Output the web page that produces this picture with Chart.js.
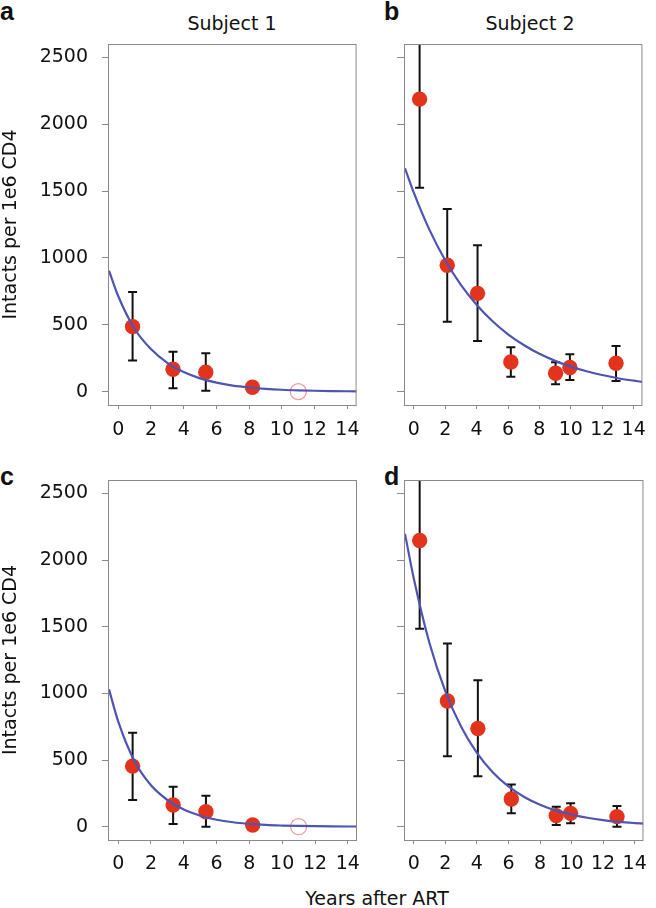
<!DOCTYPE html>
<html>
<head>
<meta charset="utf-8">
<script src="https://cdn.jsdelivr.net/npm/chart.js@4.4.1/dist/chart.umd.min.js"></script>
<style>
  body { margin: 0; background: #fff; width: 656px; height: 908px; position: relative; overflow: hidden; font-family: "DejaVu Sans", sans-serif; }
  canvas { position: absolute; }
  .lbl { position: absolute; white-space: nowrap; color: #111; line-height: 1; }
  .letter { font-family: "Liberation Sans", Arial, sans-serif; font-weight: bold; font-size: 25px; }
  .ttl { font-size: 19px; transform: translateX(-50%); }
</style>
</head>
<body>
<div class="lbl letter" style="left:0px;top:-1px">a</div>
<div class="lbl letter" style="left:384px;top:-1px">b</div>
<div class="lbl letter" style="left:0px;top:464px">c</div>
<div class="lbl letter" style="left:384px;top:464px">d</div>
<div class="lbl ttl" style="left:232px;top:14px">Subject 1</div>
<div class="lbl ttl" style="left:530px;top:14px">Subject 2</div>
<div class="lbl ttl" style="left:377px;top:889px">Years after ART</div>

<canvas id="chartA" width="370" height="450" style="left:0;top:0"></canvas>
<canvas id="chartB" width="286" height="450" style="left:370px;top:0"></canvas>
<canvas id="chartC" width="370" height="435" style="left:0;top:450px"></canvas>
<canvas id="chartD" width="286" height="435" style="left:370px;top:450px"></canvas>

<script>
// tick labels
const xTicks = [0, 2, 4, 6, 8, 10, 12, 14];
const yTicks = [0, 500, 1000, 1500, 2000, 2500];

// subject 1 (panels a, c)
const s1Years = [0.88, 3.35, 5.35, 8.2];
const aMean = [486, 167, 145, 33];
const aLow = [232, 25, 7, 18];
const aHigh = [745, 299, 287, 48];
const cMean = [454, 162, 112, 13];
const cLow = [200, 20, 0, 3];
const cHigh = [704, 300, 232, 25];
const s1OpenYears = [11.0];
const s1OpenVals = [0];

// subject 2 (panels b, d)
const s2Years = [0.37, 2.13, 4.06, 6.18, 9.03, 9.94, 12.88];
const bMean = [2188, 945, 735, 222, 137, 180, 212];
const bLow = [1525, 523, 379, 112, 55, 87, 80];
const bHigh = [2900, 1365, 1094, 332, 220, 279, 341];
const dMean = [2146, 943, 736, 207, 83, 100, 75];
const dLow = [1485, 529, 379, 100, 13, 25, 0];
const dHigh = [2850, 1373, 1098, 317, 150, 175, 155];

// fitted decay curves
const fitYears = [-0.56, 0, 1, 2, 3, 4, 5, 6, 7, 8, 9, 10, 11, 12, 13, 14, 14.56];
const aFit = [905, 715, 470, 318, 215, 146, 99, 67, 45, 31, 21, 14, 9.5, 6.4, 4.3, 2.9, 2.3];
const bFit = [1670, 1489, 1210, 983, 799, 650, 528, 429, 349, 283, 230, 187, 152, 124, 100, 82, 73];
const cFit = [1030, 790, 490, 310, 200, 128, 82, 52, 33, 21, 13, 8.5, 5.4, 3.5, 2.2, 1.4, 1.1];
const dFit = [2196, 1860, 1374, 1015, 750, 554, 409, 302, 223, 165, 122, 90, 67, 49, 36, 27, 23];

const DOT = '#e2341d';
const CURVE = '#4f54b3';
const OPEN = '#f29a9a';
const AXIS = '#8a8a8a';
const FONT = { family: '"DejaVu Sans", sans-serif', size: 19 };

function pts(xs, ys) {
  return xs.map((x, i) => ({ x: x, y: ys[i] }));
}

function makePanel(id, fit, years, mean, low, high, openYears, openVals, o) {
  const errPlugin = {
    id: 'errBars',
    beforeDatasetsDraw(chart) {
      const ctx = chart.ctx;
      const xs = chart.scales.x, ys = chart.scales.y, area = chart.chartArea;
      ctx.save();
      ctx.beginPath();
      ctx.rect(area.left, area.top, area.right - area.left, area.bottom - area.top);
      ctx.clip();
      ctx.strokeStyle = '#111';
      ctx.lineWidth = 2;
      years.forEach((t, i) => {
        const px = xs.getPixelForValue(t);
        const y1 = ys.getPixelForValue(low[i]);
        const y2 = ys.getPixelForValue(high[i]);
        ctx.beginPath();
        ctx.moveTo(px, y1); ctx.lineTo(px, y2);
        ctx.moveTo(px - 4.5, y1); ctx.lineTo(px + 4.5, y1);
        ctx.moveTo(px - 4.5, y2); ctx.lineTo(px + 4.5, y2);
        ctx.stroke();
      });
      ctx.restore();
    },
    afterDraw(chart) {
      const ctx = chart.ctx, a = chart.chartArea;
      ctx.save();
      ctx.strokeStyle = AXIS;
      ctx.lineWidth = 1;
      ctx.strokeRect(a.left - 0.5, a.top + 0.5, a.right - a.left, a.bottom - a.top);
      ctx.restore();
    }
  };

  return new Chart(document.getElementById(id), {
    type: 'scatter',
    data: {
      datasets: [
        {
          type: 'line',
          data: pts(fitYears, fit),
          borderColor: CURVE,
          borderWidth: 2.2,
          pointRadius: 0,
          cubicInterpolationMode: 'monotone',
          fill: false
        },
        {
          data: pts(years, mean),
          backgroundColor: DOT,
          borderWidth: 0,
          pointRadius: 7.7
        },
        {
          data: pts(openYears, openVals),
          backgroundColor: 'rgba(0,0,0,0)',
          borderColor: OPEN,
          borderWidth: 1.2,
          pointRadius: 8
        }
      ]
    },
    options: {
      responsive: false,
      animation: false,
      events: [],
      layout: { padding: { left: 0, right: o.padRight, top: o.padTop, bottom: 0 } },
      plugins: { legend: { display: false }, tooltip: { enabled: false } },
      scales: {
        x: {
          type: 'linear',
          min: -0.56,
          max: 14.56,
          afterBuildTicks: s => { s.ticks = xTicks.map(v => ({ value: v })); },
          afterFit: s => { s.height = 45; },
          grid: { drawOnChartArea: false, drawTicks: true, tickLength: 4, color: AXIS },
          border: { display: false },
          ticks: { color: '#111', font: FONT, padding: o.xPad, maxRotation: 0, autoSkip: false, callback: v => String(v) }
        },
        y: {
          type: 'linear',
          min: -100,
          max: 2600,
          afterBuildTicks: s => { s.ticks = yTicks.map(v => ({ value: v })); },
          afterFit: s => { s.width = o.yWidth; },
          grid: { drawOnChartArea: false, drawTicks: true, tickLength: o.tickLen, color: AXIS },
          border: { display: false },
          ticks: { display: o.yLabels, color: '#111', font: FONT, padding: 14, callback: v => String(v) },
          title: { display: o.yLabels, text: 'Intacts per 1e6 CD4', color: '#111', font: FONT, padding: 0 }
        }
      }
    },
    plugins: [errPlugin]
  });
}

makePanel('chartA', aFit, s1Years, aMean, aLow, aHigh, s1OpenYears, s1OpenVals,
  { padRight: 13, padTop: 44, yWidth: 109, yLabels: true, tickLen: 7, xPad: 10 });
makePanel('chartB', bFit, s2Years, bMean, bLow, bHigh, [], [],
  { padRight: 2, padTop: 44, yWidth: 35, yLabels: false, tickLen: 8, xPad: 10 });
makePanel('chartC', cFit, s1Years, cMean, cLow, cHigh, s1OpenYears, s1OpenVals,
  { padRight: 13, padTop: 30, yWidth: 109, yLabels: true, tickLen: 7, xPad: 9 });
makePanel('chartD', dFit, s2Years, dMean, dLow, dHigh, [], [],
  { padRight: 2, padTop: 30, yWidth: 35, yLabels: false, tickLen: 8, xPad: 9 });
</script>
</body>
</html>
